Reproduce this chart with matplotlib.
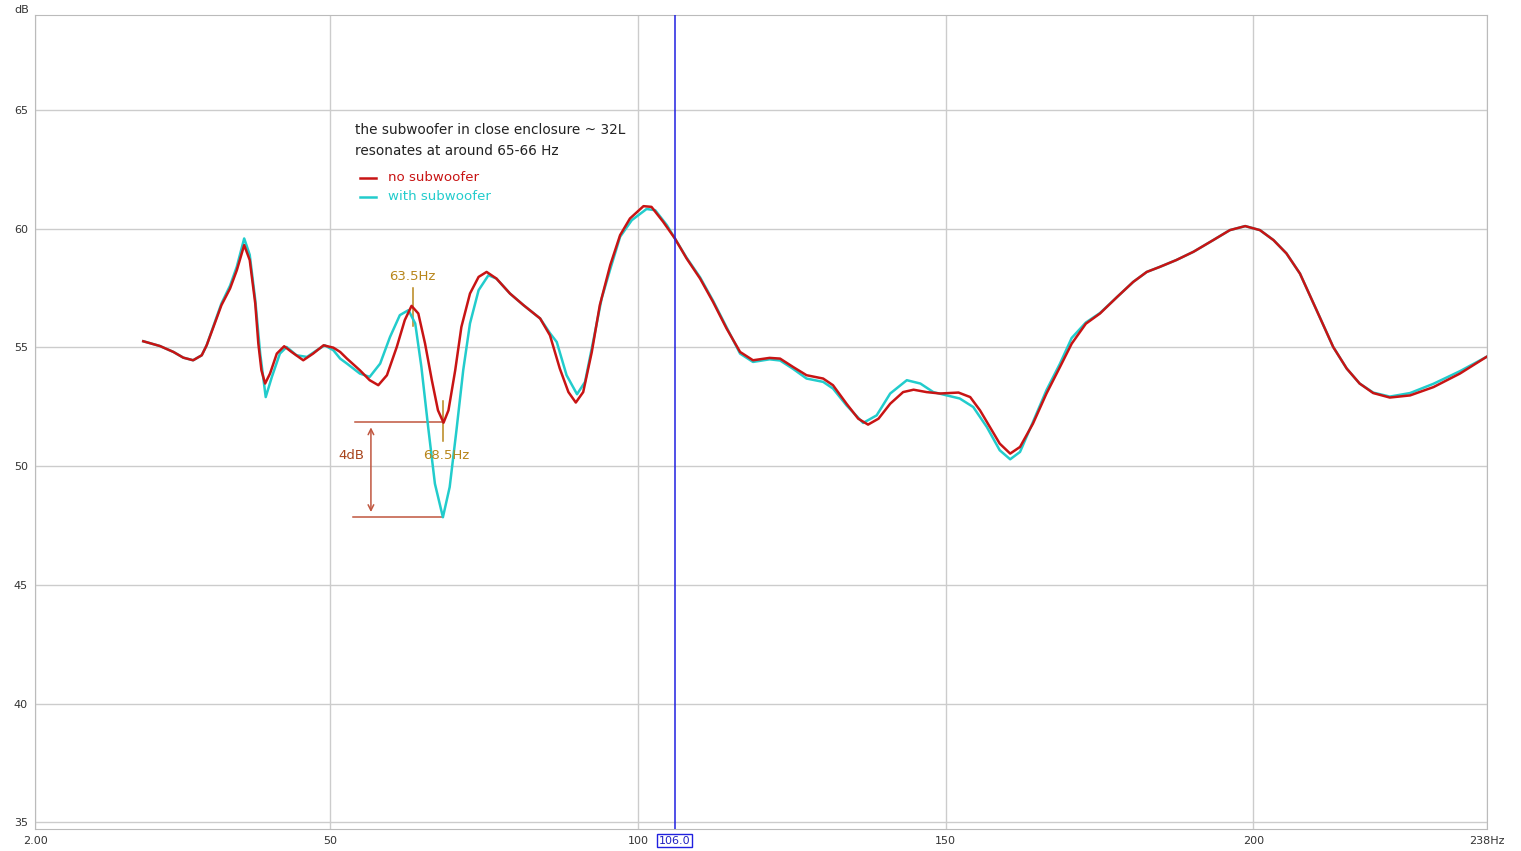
import matplotlib.pyplot as plt

# frequency response readings (Hz, dB)
freq_no_sub = [19.6, 22.3, 24.5, 26.1, 27.7, 29.1, 29.9, 31.0, 32.3, 33.7,
               34.8, 36.0, 36.9, 37.8, 38.3, 38.8, 39.4, 40.2, 41.3, 42.5,
               43.7, 45.6, 47.2, 48.9, 50.5, 51.6, 52.7, 54.8, 56.4, 57.8,
               59.2, 60.8, 62.1, 63.2, 64.3, 65.4, 66.5, 67.5, 68.4, 69.2,
               70.3, 71.3, 72.7, 74.1, 75.4, 77.0, 79.2, 81.4, 84.1, 85.7,
               87.3, 88.7, 89.9, 91.1, 92.5, 93.8, 95.5, 97.1, 98.7, 100.9,
               102.2, 104.1, 106.0, 107.9, 110.1, 112.2, 114.4, 116.6, 118.7, 121.4,
               123.1, 125.2, 127.4, 130.1, 131.7, 133.9, 135.8, 137.4, 139.1, 141.0,
               143.1, 144.8, 146.9, 149.1, 152.1, 154.0, 155.6, 157.2, 158.8, 160.5,
               162.1, 164.2, 166.4, 168.6, 170.5, 172.8, 175.1, 177.9, 180.5, 182.7,
               184.8, 187.5, 190.3, 193.5, 196.2, 198.7, 201.1, 203.3, 205.4, 207.6,
               210.3, 213.0, 215.2, 217.3, 219.5, 222.2, 225.5, 229.3, 233.6, 237.9]
db_no_sub = [55.26, 55.06, 54.81, 54.57, 54.46, 54.67, 55.09, 55.86, 56.78, 57.48,
             58.25, 59.31, 58.68, 56.85, 55.16, 54.04, 53.48, 53.9, 54.74, 55.05,
             54.81, 54.46, 54.74, 55.09, 54.99, 54.81, 54.53, 54.04, 53.62, 53.41,
             53.83, 55.02, 56.15, 56.75, 56.43, 55.16, 53.62, 52.35, 51.83, 52.35,
             54.04, 55.86, 57.27, 57.97, 58.18, 57.9, 57.27, 56.78, 56.22, 55.51,
             54.11, 53.12, 52.68, 53.12, 54.81, 56.78, 58.47, 59.73, 60.43, 60.95,
             60.92, 60.29, 59.59, 58.75, 57.9, 56.92, 55.8, 54.81, 54.46, 54.56,
             54.53, 54.18, 53.83, 53.69, 53.41, 52.63, 52.0, 51.75, 52.0, 52.63,
             53.12, 53.22, 53.12, 53.06, 53.1, 52.91, 52.35, 51.65, 50.95, 50.53,
             50.81, 51.79, 53.06, 54.18, 55.16, 56.0, 56.43, 57.13, 57.76, 58.18,
             58.39, 58.68, 59.03, 59.52, 59.94, 60.11, 59.94, 59.52, 58.96, 58.11,
             56.57, 55.02, 54.11, 53.48, 53.08, 52.89, 52.98, 53.33, 53.9, 54.6]

freq_sub = [19.6, 22.3, 24.5, 26.1, 27.7, 29.1, 29.9, 31.0, 32.3, 33.7,
            34.8, 36.0, 36.9, 37.8, 38.6, 39.5, 40.5, 41.8, 42.9, 44.5,
            46.2, 47.8, 49.1, 50.5, 51.6, 52.7, 54.8, 56.4, 58.1, 59.7,
            61.3, 62.7, 63.8, 64.8, 65.9, 67.0, 68.3, 69.4, 70.5, 71.6,
            72.7, 74.1, 75.7, 77.0, 79.2, 81.4, 84.1, 85.7, 86.8, 88.4,
            90.1, 91.4, 92.7, 94.1, 95.5, 97.1, 99.0, 101.4, 102.8, 104.7,
            106.0, 107.9, 110.1, 112.2, 114.4, 116.6, 118.7, 121.4, 123.1, 125.2,
            127.4, 130.1, 131.7, 133.9, 136.6, 138.8, 141.0, 143.7, 145.9, 148.0,
            150.2, 152.3, 154.5, 156.7, 158.8, 160.5, 162.1, 164.2, 166.4, 168.6,
            170.5, 172.8, 175.1, 177.9, 180.5, 182.7, 184.8, 187.5, 190.3, 193.5,
            196.2, 198.7, 201.1, 203.3, 205.4, 207.6, 210.3, 213.0, 215.2, 217.3,
            219.5, 222.2, 225.5, 229.3, 233.6, 237.9]
db_sub = [55.26, 55.06, 54.81, 54.57, 54.46, 54.67, 55.09, 55.9, 56.85, 57.6,
          58.4, 59.59, 58.9, 57.0, 54.74, 52.91, 53.76, 54.74, 55.02, 54.67,
          54.6, 54.88, 55.09, 54.88, 54.53, 54.32, 53.9, 53.76, 54.32, 55.44,
          56.36, 56.57, 56.01, 54.18, 51.65, 49.26, 47.85, 49.12, 51.51, 54.04,
          56.01, 57.41, 58.04, 57.9, 57.27, 56.78, 56.22, 55.6, 55.23, 53.83,
          53.03, 53.55, 55.23, 57.06, 58.3, 59.66, 60.36, 60.83, 60.78, 60.15,
          59.59, 58.78, 57.95, 56.97, 55.85, 54.74, 54.39, 54.5, 54.45, 54.1,
          53.69, 53.55, 53.27, 52.56, 51.82, 52.14, 53.06, 53.62, 53.48, 53.12,
          52.98, 52.85, 52.49, 51.65, 50.67, 50.29, 50.6, 51.86, 53.2, 54.32,
          55.4, 56.05, 56.45, 57.13, 57.76, 58.18, 58.39, 58.68, 59.03, 59.52,
          59.94, 60.11, 59.94, 59.52, 58.96, 58.11, 56.57, 55.02, 54.11, 53.48,
          53.1, 52.93, 53.08, 53.47, 54.0, 54.6]

x_ticks = [2, 50, 100, 150, 200, 238]
x_labels = ['2.00', '50', '100', '150', '200', '238Hz']
y_ticks = [35, 40, 45, 50, 55, 60, 65]
cursor_hz = 106.0

RED = '#c81414'
CYAN = '#22cccc'
GOLD = '#b8861b'
BROWN = '#c0563f'


def main():
    fig = plt.figure(figsize=(15.21, 8.51), dpi=100)
    ax = fig.add_axes([35 / 1521, 22 / 851, 1452 / 1521, 814 / 851])

    ax.plot(freq_sub, db_sub, color=CYAN, lw=1.8, zorder=3)
    ax.plot(freq_no_sub, db_no_sub, color=RED, lw=1.8, zorder=4)
    ax.axvline(cursor_hz, color='#2020e0', lw=1.1, zorder=5)

    ax.set_xlim(2, 238)
    ax.set_ylim(34.72, 69.0)
    ax.set_xticks(x_ticks, labels=x_labels)
    ax.set_yticks(y_ticks)
    ax.grid(True, color='#cccccc', lw=1)
    ax.tick_params(length=0, labelsize=8, labelcolor='#333333', pad=5)
    for s in ax.spines.values():
        s.set_color('#bbbbbb')
    ax.text(-0.004, 1.0, 'dB', transform=ax.transAxes, ha='right', va='bottom',
            fontsize=8, color='#333333')
    ax.text(cursor_hz, -0.008, '106.0', transform=ax.get_xaxis_transform(),
            ha='center', va='top', fontsize=8, color='#2020c0',
            bbox=dict(boxstyle='square,pad=0.15', fc='white', ec='#2020e0', lw=1))

    # notes
    ax.text(54.0, 64.45, 'the subwoofer in close enclosure ~ 32L\nresonates at around 65-66 Hz',
            fontsize=9.8, color='#222222', linespacing=1.6, va='top')
    ax.plot([54.8, 57.4], [62.15, 62.15], color=RED, lw=1.8)
    ax.plot([54.8, 57.4], [61.35, 61.35], color=CYAN, lw=1.8)
    ax.text(59.4, 62.15, 'no subwoofer', fontsize=9.6, color=RED, va='center')
    ax.text(59.4, 61.35, 'with subwoofer', fontsize=9.6, color=CYAN, va='center')

    ax.text(63.4, 57.7, '63.5Hz', fontsize=9.5, color=GOLD, ha='center', va='bottom')
    ax.plot([63.4, 63.4], [57.5, 55.9], color=GOLD, lw=1.1)
    ax.text(68.8, 50.45, '68.5Hz', fontsize=9.5, color=GOLD, ha='center', va='center')
    ax.plot([68.3, 68.3], [52.75, 51.05], color=GOLD, lw=1.1)

    ax.plot([54.0, 68.3], [51.86, 51.86], color=BROWN, lw=1.1)
    ax.plot([53.7, 68.3], [47.85, 47.85], color=BROWN, lw=1.1)
    ax.annotate('', xy=(56.6, 47.95), xytext=(56.6, 51.75),
                arrowprops=dict(arrowstyle='<->', color=BROWN, lw=1.1))
    ax.text(53.4, 50.45, '4dB', fontsize=9.5, color='#a8441c', ha='center', va='center')

    fig.savefig('out.png', dpi=100)


if __name__ == '__main__':
    main()
